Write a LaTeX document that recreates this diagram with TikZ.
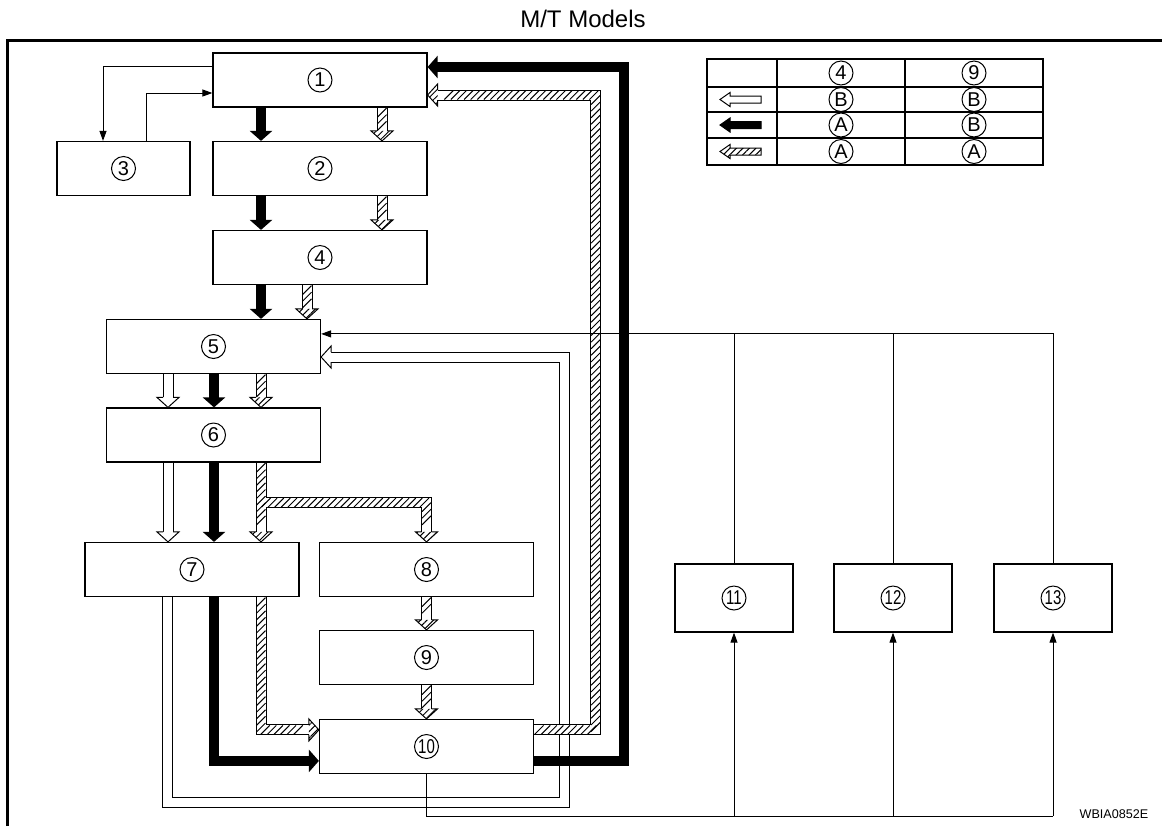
\documentclass[tikz,border=0pt]{standalone}
\usepackage{graphicx}
\usepackage{fontspec}
\setmainfont{Liberation Sans}
\usetikzlibrary{arrows.meta,calc,decorations.markings,patterns.meta}

\tikzset{
  box/.style={draw,line width=0.6pt,minimum width=107pt,minimum height=27pt,inner sep=0pt},
  smallbox/.style={box,minimum width=59pt,minimum height=34pt},
  cnum/.style={circle,draw,line width=0.5pt,minimum size=12pt,inner sep=0pt,font=\fontsize{10}{10}\selectfont},
  wire/.style={line width=0.5pt},
  wirearrow/.style={wire,-{Triangle[length=5pt,width=3.5pt]}},
  solidflow/.style={line width=5pt,-{Triangle[length=5pt,width=11pt]}},
  openflow/.style={double,double distance=4.5pt,line width=0.5pt,line join=miter},
  hatch stripes/.style={decorate,decoration={markings,
    mark=between positions 2.5pt and -2.5pt step 3.3pt with {\pgftransformresetnontranslations
      \draw[line width=0.5pt] (-2.25pt,-2.25pt) -- (2.25pt,2.25pt);}}},
  white stripes/.style={},
  hatch head/.style={pattern={Lines[angle=45,distance=2.3pt,line width=0.5pt]}},
  white head/.style={fill=white},
  lgwhite/.style={fill=white},
  lgblack/.style={fill=black},
}

% open arrow head: base point, direction, fill
\newcommand{\openhead}[3]{%
  \begin{scope}[shift={#1},rotate=#2]
    \fill[#3] (0pt,-5.5pt) -- (5pt,0pt) -- (0pt,5.5pt) -- cycle;
    \draw[wire,line join=miter] (0pt,2.5pt) -- (0pt,5.5pt) -- (5pt,0pt) -- (0pt,-5.5pt) -- (0pt,-2.5pt);
  \end{scope}}
% open band with head: kind, path, head base, direction
\newcommand{\bandarrow}[4]{%
  \draw[openflow] #2;
  \path[#1 stripes] #2;
  \openhead{#3}{#4}{#1 head}}

\begin{document}
\begin{tikzpicture}[x=0.5pt,y=-0.5pt]
\useasboundingbox (0,0) rectangle (1162,826);
% frame and titles
\draw[line width=1.5pt] (7,826) -- (7,40) -- (1162,40);
\node[font=\fontsize{12}{12}\selectfont] (title) at (583,19) {M/T Models};
\node[font=\fontsize{6.3}{6.3}\selectfont] (code) at (1114,814) {WBIA0852E};

% legend table
\draw[line width=0.6pt] (707,59) rectangle (1043,165);
\foreach \y in {87,112,138} \draw[line width=0.6pt] (707,\y) -- (1043,\y);
\foreach \x in {777,905} \draw[line width=0.6pt] (\x,59) -- (\x,165);
\node[cnum] (k4) at (841,73) {4};
\node[cnum] (k9) at (974,73) {9};
\foreach \y/\p/\q/\s [count=\r] in {99.5/B/B/lgwhite,125/A/B/lgblack,151.5/A/A/hatch head} {
  \node[cnum] (kl\r) at (841,\y) {\p};
  \node[cnum] (kr\r) at (974,\y) {\q};
  \draw[wire,\s] (720,\y) -- (730,\y-7) -- (730,\y-3.5) -- (761,\y-3.5)
    -- (761,\y+3.5) -- (730,\y+3.5) -- (730,\y+7) -- cycle;
}

% boxes
\node[box] (b1) at (320,80) {};
\node[box,minimum width=66.5pt] (b3) at (123.5,168.5) {};
\node[box] (b2) at (320,168.5) {};
\node[box] (b4) at (320,257.5) {};
\node[box] (b5) at (213.5,346.5) {};
\node[box] (b6) at (213.5,435) {};
\node[box] (b7) at (192,569.5) {};
\node[box] (b8) at (426.5,569.5) {};
\node[box] (b9) at (426.5,657.5) {};
\node[box] (b10) at (426.5,746.5) {};
\node[smallbox] (b11) at (734,598) {};
\node[smallbox] (b12) at (893,598) {};
\node[smallbox] (b13) at (1053,598) {};
\foreach \i in {1,...,9} \node[cnum] (c\i) at (b\i) {\i};
\foreach \i in {10,...,13} \node[cnum] (c\i) at (b\i) {\scalebox{0.75}[1]{\i}};

% open band 7 -> 5
\coordinate (w5) at ($(b5.east)+(10,10.5)$);
\coordinate (wc) at ($(b10.south)+(137.5,28)$);
\bandarrow{white}{(b7.south -| 167,0) |- (wc) |- (w5)}{(w5)}{180}
\foreach \a/\b in {b5/b6,b6/b7} {
  \coordinate (h) at ($(\b.north -| 168,0)+(0,-10)$);
  \bandarrow{white}{(\a.south -| 168,0) -- (h)}{(h)}{-90}
}

% solid flows
\foreach \a/\b/\x in {b1/b2/261,b2/b4/261,b4/b5/261,b5/b6/214,b6/b7/214}
  \draw[solidflow] (\a.south -| \x,0) -- (\b.north -| \x,0);
\draw[solidflow] (b7.south -| 214,0) |- ($(b10.north west)+(0,42)$);
\draw[solidflow] ($(b10.north east)+(0,42)$) -| ($(b1.east)+(196,-13)$) -- ($(b1.east)+(0,-13)$);

% hatched flows
\foreach \a/\b/\x in {b1/b2/382,b2/b4/382,b4/b5/307,b5/b6/261,b8/b9/426.5,b9/b10/426.5} {
  \coordinate (h) at ($(\b.north -| \x,0)+(0,-10)$);
  \bandarrow{hatch}{(\a.south -| \x,0) -- (h)}{(h)}{-90}
}
\coordinate (h7) at ($(b7.north -| 261,0)+(0,-10)$);
\coordinate (h8) at ($(b8.north)+(0,-10)$);
\coordinate (fork) at ($(b6.south -| 261,0)+(0,40)$);
\draw[openflow] (b6.south -| 261,0) -- (h7) (fork) -| (h8);
\path[hatch stripes] (b6.south -| 261,0) -- (h7);
\path[hatch stripes] (fork) -| (h8);
\openhead{(h7)}{-90}{hatch head}
\openhead{(h8)}{-90}{hatch head}
\coordinate (h10) at ($(b10.north west)+(-10,11)$);
\bandarrow{hatch}{(b7.south -| 261,0) |- (h10)}{(h10)}{0}
\coordinate (h1) at ($(b1.east)+(10,15)$);
\coordinate (hc) at ($(b1.east)+(168,15)$);
\bandarrow{hatch}{($(b10.north east)+(0,11)$) -| (hc) -- (h1)}{(h1)}{180}

% thin wires
\draw[wirearrow] ($(b1.west)+(0,-14)$) -| ($(b3.north)+(-20.5,0)$);
\draw[wirearrow] ($(b3.north)+(22.5,0)$) |- ($(b1.west)+(0,13)$);
\coordinate (t5) at ($(b5.north east)+(0,15)$);
\draw[wirearrow] (b13.north) |- (t5);
\foreach \b in {b11,b12} \draw[wire] (\b.north) -- (\b.north |- t5);
\coordinate (bus) at ($(b10.south)+(0,42)$);
\draw[wire] (b10.south) -- (bus) -- (bus -| b13.south);
\foreach \b in {b11,b12,b13} \draw[wirearrow] (bus -| \b.south) -- (\b.south);
\end{tikzpicture}
\end{document}
